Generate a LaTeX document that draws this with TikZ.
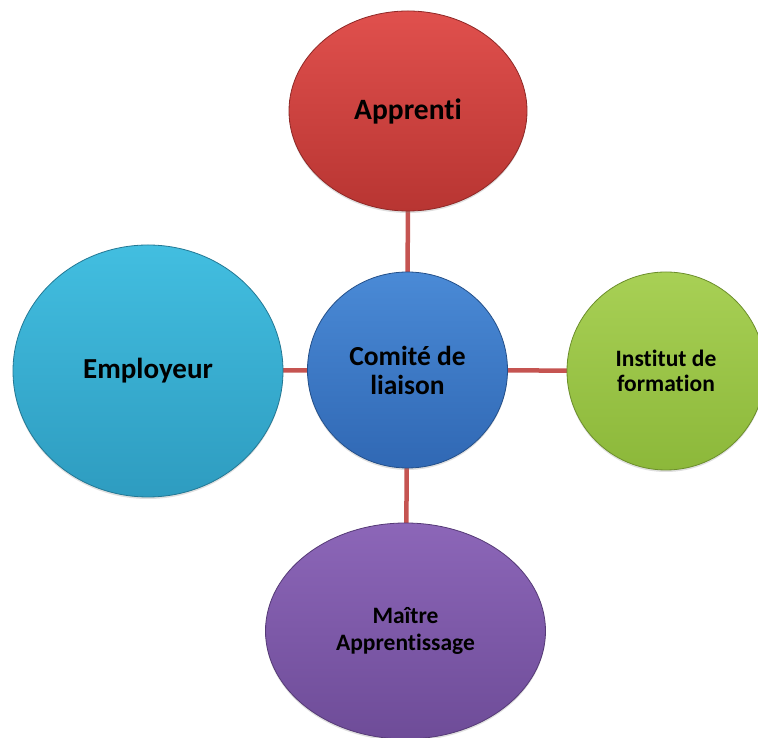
\documentclass[tikz,border=0pt]{standalone}
\usepackage{fontspec}
\setmainfont[RawFeature=-liga]{Carlito}
\usetikzlibrary{shapes.geometric,shadows}
\pgfdeclarelayer{background}
\pgfsetlayers{background,main}
\definecolor{redT}{HTML}{E0504D}
\definecolor{redB}{HTML}{B83532}
\definecolor{redL}{HTML}{8E2826}
\definecolor{blueT}{HTML}{4A8AD6}
\definecolor{blueB}{HTML}{3068B4}
\definecolor{blueL}{HTML}{24508A}
\definecolor{cyanT}{HTML}{42BEE0}
\definecolor{cyanB}{HTML}{2E9CC0}
\definecolor{cyanL}{HTML}{237894}
\definecolor{greenT}{HTML}{A8D055}
\definecolor{greenB}{HTML}{8CB83A}
\definecolor{greenL}{HTML}{6C8E2C}
\definecolor{purpT}{HTML}{8C66B8}
\definecolor{purpB}{HTML}{6E4C98}
\definecolor{purpL}{HTML}{553A76}
\definecolor{linkc}{HTML}{C55451}
\tikzset{
  bubble/.style={ellipse, inner sep=0pt, line width=0.8pt, align=center,
    font=\bfseries, text=black,
    drop shadow={opacity=0.25, shadow xshift=0pt, shadow yshift=-2pt}},
  link/.style={draw=linkc, line width=4.5pt}
}
\begin{document}
\begin{tikzpicture}[x=1pt,y=1pt]
\useasboundingbox (0,0) rectangle (758,738);
\node[bubble, minimum width=238pt, minimum height=200pt, top color=redT, bottom color=redB, draw=redL,
  font=\bfseries\fontsize{29.5}{33}\selectfont] (apprenti) at (408,627) {Apprenti};
\node[bubble, minimum width=200pt, minimum height=196pt, top color=blueT, bottom color=blueB, draw=blueL,
  font=\bfseries\fontsize{27.5}{29}\selectfont] (comite) at (407.5,368) {Comité de\\liaison};
\node[bubble, minimum width=270pt, minimum height=252pt, top color=cyanT, bottom color=cyanB, draw=cyanL,
  font=\bfseries\fontsize{29}{33}\selectfont] (employeur) at (148,367) {Employeur};
\node[bubble, minimum width=198pt, minimum height=198pt, top color=greenT, bottom color=greenB, draw=greenL,
  font=\bfseries\fontsize{23.5}{25}\selectfont] (institut) at (666,367) {Institut de\\formation};
\node[bubble, minimum width=280pt, minimum height=216pt, top color=purpT, bottom color=purpB, draw=purpL,
  font=\bfseries\fontsize{23.5}{27}\selectfont] (maitre) at (405.5,107) {Maître\\Apprentissage};
\begin{pgfonlayer}{background}
\draw[link] (comite.center) -- (apprenti.center);
\draw[link] (comite.center) -- (employeur.center);
\draw[link] (comite.center) -- (institut.center);
\draw[link] (comite.center) -- (maitre.center);
\end{pgfonlayer}
\end{tikzpicture}
\end{document}
